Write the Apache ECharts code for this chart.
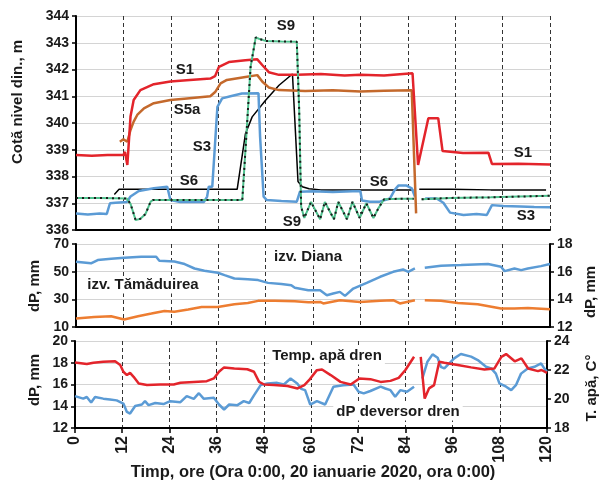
<!DOCTYPE html>
<html>
<head>
<meta charset="utf-8">
<script src="https://cdn.jsdelivr.net/npm/echarts@6/dist/echarts.min.js"></script>
<style>
  html, body { margin: 0; padding: 0; background: #fff; }
  #chart { width: 602px; height: 489px; }
</style>
</head>
<body>
<div id="chart"></div>
<script>
// ---- date / ore (ore de la 20 ianuarie 2020, 0:00) ----
const xTicks = [0, 12, 24, 36, 48, 60, 72, 84, 96, 108, 120];

// Panou sus: cota nivel dinamic, m
const s1T = [0, 4, 8, 12, 12.4, 13, 13.8, 14.6, 16.3, 19.7, 23.9, 28, 34, 35.2, 36.2, 38.7, 42.9, 45.9, 47.2, 48.8, 51.4, 56, 62, 68, 72, 78, 85.2, 86.6, 87.1, 89.2, 91.7, 92.8, 98, 104.4, 105.3, 112, 120];
const s1V = [338.8, 338.78, 338.8, 338.8, 338.92, 338.43, 340.24, 340.86, 341.23, 341.45, 341.55, 341.6, 341.66, 341.75, 342.1, 342.28, 342.35, 342.38, 342.16, 341.9, 341.8, 341.8, 341.83, 341.78, 341.8, 341.78, 341.86, 338.43, 338.5, 340.18, 340.18, 338.95, 338.88, 338.89, 338.47, 338.48, 338.45];

const s5aT = [11.1, 12, 13, 13.8, 14.6, 15.5, 17.2, 19.7, 23.9, 28.1, 34, 35.3, 36.6, 38.2, 42.9, 45.9, 47.2, 48.8, 51.4, 58, 65, 72, 78, 85, 86.1];
const s5aV = [339.3, 339.39, 339.3, 339.74, 340.05, 340.3, 340.55, 340.74, 340.86, 340.92, 341.0, 341.17, 341.48, 341.61, 341.72, 341.79, 341.54, 341.33, 341.23, 341.2, 341.22, 341.18, 341.21, 341.22, 336.62];

const s3T = [0, 3, 6, 7.8, 8.6, 10, 12.9, 13.8, 15.9, 19.7, 23.1, 23.9, 26.4, 32.4, 33.2, 33.6, 34.5, 35.1, 35.8, 37, 39.1, 42, 46.2, 46.6, 47.5, 48.3, 52, 55.9, 56.7, 60, 65, 70, 72, 72.4, 74.4, 76.9, 79.5, 80.7, 81.6, 83.7, 85, 85.8, 87, 88.4, 91.3, 93, 94.7, 98.1, 101.4, 104, 105.3, 108.2, 112.5, 116, 120];
const s3V = [336.62, 336.58, 336.62, 336.6, 337.0, 337.02, 337.05, 337.25, 337.46, 337.56, 337.62, 337.12, 337.05, 337.05, 337.25, 337.62, 337.62, 338.99, 340.6, 340.92, 341.0, 341.1, 341.11, 339.5, 337.25, 337.12, 337.08, 337.06, 337.43, 337.45, 337.42, 337.45, 337.45, 337.1, 337.06, 337.06, 337.18, 337.5, 337.66, 337.66, 337.56, 337.25, null, 337.18, 337.18, 337.02, 336.65, 336.56, 336.6, 336.56, 336.93, 336.9, 336.88, 336.86, 336.85];

const s6T = [9.7, 10.9, 20, 30, 40.8, 42.9, 44.6, 48, 51.4, 54.8, 56.2, 57.3, 59, 62, 72, 80, 85.4, 86.2, 86.9, 95, 105, 119];
const s6V = [337.33, 337.52, 337.52, 337.52, 337.52, 339.6, 340.23, 340.85, 341.41, 341.83, 337.81, 337.62, 337.54, 337.5, 337.5, 337.5, 337.5, null, 337.52, 337.52, 337.5, 337.5];

const s9T = [0, 6, 12.8, 13.8, 15.1, 16.3, 17.6, 18.9, 19.5, 30, 42.1, 42.9, 44.2, 45.5, 46.3, 48, 52, 55.9, 56.5, 57, 57.8, 59.5, 61.8, 63, 65.3, 66.4, 68.6, 70, 71.8, 73.5, 75.3, 76.5, 78, 82, 85.5, 86.5, 87.5, 95, 105, 112, 120];
const s9V = [337.2, 337.2, 337.18, 336.98, 336.37, 336.42, 336.6, 337.06, 337.12, 337.12, 337.12, 338.99, 342.1, 343.2, 343.15, 343.07, 343.05, 343.04, 340.5, 336.87, 336.45, 337.05, 336.4, 337.05, 336.4, 337.05, 336.4, 337.05, 336.45, 337.0, 336.45, 336.8, 337.15, 337.17, 337.17, null, 337.15, 337.2, 337.22, 337.25, 337.28];

// Panou mijloc: dP izvoare, mm
const dianaT = [0, 3.8, 5.5, 8.9, 12.2, 16.5, 20.3, 21.1, 24.9, 27.5, 30, 32.5, 35.9, 37.6, 40.1, 43.5, 46.1, 48.6, 52, 54.5, 55.4, 58.8, 61.8, 63.5, 65.1, 66.8, 68.1, 70.2, 73.6, 77, 80.3, 82.8, 84.1, 85.8, 87, 88.3, 92.4, 97.5, 104.3, 107.6, 108.5, 111, 112.7, 114.4, 117.7, 120];
const dianaV = [57.2, 56.0, 58.4, 59.3, 60.1, 60.8, 60.8, 57.9, 57.4, 55.5, 52.3, 50.6, 49.2, 47.5, 45.1, 44.6, 43.9, 41.9, 41.0, 40.2, 38.3, 36.6, 36.6, 33.0, 34.2, 35.4, 32.5, 37.8, 41.9, 46.3, 49.9, 51.6, 49.9, 52.3, null, 52.8, 54.3, 54.8, 55.5, 53.5, 50.4, 52.3, 51.1, 52.3, 54.0, 55.5];

const tamT = [0, 4.6, 8.9, 12.2, 15.7, 19.1, 22.4, 24.9, 28.4, 31.8, 35.9, 40.1, 43.5, 46.1, 50.3, 55.4, 58.8, 61.8, 62.6, 66.8, 71.9, 77, 80.3, 82, 85.8, 87, 88.3, 92.4, 96.7, 101.7, 107.6, 111, 114.4, 120];
const tamV = [16.1, 17.3, 17.8, 15.4, 17.8, 19.7, 21.6, 21.1, 22.6, 24.5, 24.5, 26.5, 27.4, 28.9, 28.9, 28.6, 27.9, 28.1, 27.0, 29.4, 28.1, 28.9, 29.4, 27.0, 29.4, null, 29.4, 28.9, 27.4, 26.5, 23.3, 23.3, 23.8, 22.8];

// Panou jos: dP deversor dren (mm) si temperatura apa dren (C)
const devT = [0, 2.1, 3, 4.1, 5.1, 7.2, 8.9, 10.6, 12.3, 13.2, 14, 15.3, 17, 17.8, 18.7, 20.4, 22.5, 24.2, 26.8, 28.4, 30.2, 31.5, 32.7, 35.3, 36.6, 37.9, 39.2, 41.3, 42.9, 44.3, 45.5, 47.2, 48.9, 51.4, 53.1, 54.8, 56.5, 57.5, 58.5, 59.8, 61.5, 63.6, 65.7, 68.2, 70.8, 72.1, 73.4, 75.1, 77.7, 78.9, 80.2, 81.4, 82.7, 84.4, 86.2, 87.2, 88.3, 89.6, 90.9, 92.2, 93, 93.9, 96.4, 98.1, 100.7, 102.4, 104.5, 105.8, 107, 107.9, 109.6, 110.9, 112.1, 113.4, 115.1, 116.8, 118.5, 119.3, 120];
const devV = [14.93, 14.7, 14.85, 14.34, 14.85, 14.7, 14.63, 14.54, 14.25, 13.48, 13.33, 14.02, 14.16, 14.47, 14.1, 14.3, 14.2, 14.47, 14.37, 14.93, 14.68, 15.2, 14.7, 14.78, 14.16, 13.7, 14.16, 14.1, 14.47, 14.3, 15.0, 15.94, 16.1, 16.15, 16.0, 16.55, 16.1, 15.6, 15.48, 14.16, 14.47, 14.16, 15.8, 15.94, 16.0, 15.33, 15.18, 15.4, 15.8, 15.63, 15.48, 14.87, 15.48, 15.33, 15.8, null, 16.55, 18.1, 18.77, 18.46, 17.63, 17.48, 18.4, 18.8, 18.56, 18.25, 17.63, 17.48, 17.0, 16.1, 15.8, 15.48, 15.94, 17.0, 17.48, 17.63, 17.94, 17.48, 17.17];

const tempT = [0, 3, 4.7, 7.2, 10.2, 11.5, 12.3, 13.2, 14, 14.9, 16.2, 18.3, 21.6, 25.1, 26.8, 30.2, 33.5, 35.3, 36.6, 37.9, 40.5, 43.8, 45.5, 46.8, 48.1, 50.6, 54, 56.6, 58.3, 59.5, 61.5, 62.8, 65, 67.5, 70.1, 72.3, 75.1, 77.7, 80.2, 82.3, 84, 86.2, 87, 87.9, 88.9, 90, 91.3, 91.7, 92.6, 93.9, 97.3, 100.7, 104.1, 106.6, 108.4, 109.6, 111.8, 113.5, 115.2, 117.7, 118.6, 120];
const tempV = [22.52, 22.41, 22.5, 22.57, 22.6, 22.34, 21.88, 21.65, 21.8, 21.53, 21.07, 20.96, 21.0, 21.0, 21.12, 21.18, 21.23, 21.42, 21.88, 22.18, 22.1, 22.05, 21.88, 21.18, 21.0, 20.96, 20.9, 20.73, 20.96, 21.3, 21.99, 22.03, 21.65, 21.18, 21.0, 21.42, 21.37, 21.18, 21.25, 21.46, 22.0, 22.91, null, 22.91, 20.03, 20.73, 20.96, 21.0, 22.57, 22.5, 22.34, 22.18, 22.03, 22.1, 22.91, 23.1, 22.6, 22.8, 22.1, 21.92, 22.0, 21.8];

const FONT = '"Liberation Sans", Arial, sans-serif';
const TXT = '#1a1a1a';

function pairs(t, v) {
  return t.map((x, i) => [x, v[i]]);
}

function xAx(grid, showLabels) {
  return {
    type: 'value', gridIndex: grid, min: 0, max: 120, interval: 12,
    axisLine: { show: true, onZero: false, lineStyle: { color: '#000', width: 2 } },
    axisTick: { show: showLabels, length: 5, lineStyle: { color: '#000', width: 1.5 } },
    axisLabel: {
      show: showLabels, rotate: 90, margin: 8,
      color: TXT, fontWeight: 'bold', fontSize: 16, fontFamily: FONT,
      customValues: xTicks
    },
    splitLine: { show: true, lineStyle: { color: '#333', width: 1, type: [4, 3] } }
  };
}

function yAx(grid, min, max, step, pos, grids) {
  return {
    type: 'value', gridIndex: grid, min: min, max: max, interval: step, position: pos,
    axisLine: { show: true, lineStyle: { color: '#000', width: 2 } },
    axisTick: { show: true, length: 4, lineStyle: { color: '#000', width: 1.5 } },
    axisLabel: { color: TXT, fontWeight: 'bold', fontSize: 14, fontFamily: FONT, margin: 7 },
    splitLine: { show: grids, lineStyle: { color: '#d4d4d4', width: 1 } }
  };
}

function line(name, x, y, t, v, color, width, extra) {
  return Object.assign({
    name: name, type: 'line', xAxisIndex: x, yAxisIndex: y,
    data: pairs(t, v), showSymbol: false, symbol: 'none',
    connectNulls: false, animation: false,
    lineStyle: { color: color, width: width }
  }, extra || {});
}

function label(text, x, y, size, rot, boxed) {
  const style = {
    text: text, fill: TXT, font: 'bold ' + (size || 15) + 'px ' + FONT,
    textAlign: 'center', textVerticalAlign: 'middle'
  };
  if (boxed) {
    style.backgroundColor = '#fff';
    style.padding = [1, 3];
  }
  return { type: 'text', x: x, y: y, rotation: rot || 0, z: 100, style: style };
}

const chart = echarts.init(document.getElementById('chart'));
const R = Math.PI / 2;

const option = {
  backgroundColor: '#fff',
  animation: false,
  grid: [
    { left: 76, right: 52, top: 16, height: 214 },
    { left: 76, right: 52, top: 244, height: 83 },
    { left: 75, right: 55, top: 341, height: 87 }
  ],
  xAxis: [xAx(0, false), xAx(1, false), xAx(2, true)],
  yAxis: [
    yAx(0, 336, 344, 1, 'left', true),
    yAx(1, 10, 70, 20, 'left', true),
    yAx(1, 12, 18, 2, 'right', false),
    yAx(2, 12, 20, 2, 'left', true),
    yAx(2, 18, 24, 2, 'right', false)
  ],
  series: [
    line('S6', 0, 0, s6T, s6V, '#000', 1.5),
    line('S3', 0, 0, s3T, s3V, '#5b9bd5', 2.5),
    line('S5a', 0, 0, s5aT, s5aV, '#c4692c', 2.5),
    line('S1', 0, 0, s1T, s1V, '#e3242b', 2.5),
    line('S9', 0, 0, s9T, s9V, '#4fc08d', 2),
    line('S9 puncte', 0, 0, s9T, s9V, '#1a1a1a', 2, {
      lineStyle: { color: '#1a1a1a', width: 2, type: [2, 4] }
    }),
    line('izv. Diana', 1, 1, dianaT, dianaV, '#5b9bd5', 2.5),
    line('izv. Tămăduirea', 1, 1, tamT, tamV, '#ed7d31', 2.5),
    line('dP deversor dren', 2, 3, devT, devV, '#5b9bd5', 2.5),
    line('Temp. apă dren', 2, 4, tempT, tempV, '#e3242b', 2.5)
  ],
  graphic: [
    // titluri axe
    label('Cotă nivel din., m', 18, 102, 15, R),
    label('dP, mm', 35, 286, 15, R),
    label('dP, mm', 591, 292, 15, R),
    label('dP, mm', 35, 380, 15, R),
    label('T. apă, C°', 592, 388, 15, R),
    label('Timp, ore (Ora 0:00, 20 ianuarie 2020, ora 0:00)', 313, 472, 16.5),
    // etichete serii
    label('S1', 185, 70),
    label('S5a', 187, 110),
    label('S3', 202, 147),
    label('S6', 189, 181),
    label('S9', 286, 26),
    label('S9', 292, 222),
    label('S6', 379, 182),
    label('S1', 523, 153),
    label('S3', 526, 216),
    label('izv. Diana', 308, 257, 15, 0, true),
    label('izv. Tămăduirea', 143, 285, 15, 0, true),
    label('Temp. apă dren', 327, 356, 15, 0, true),
    label('dP deversor dren', 398, 412, 15, 0, true)
  ]
};

chart.setOption(option);
</script>
</body>
</html>
